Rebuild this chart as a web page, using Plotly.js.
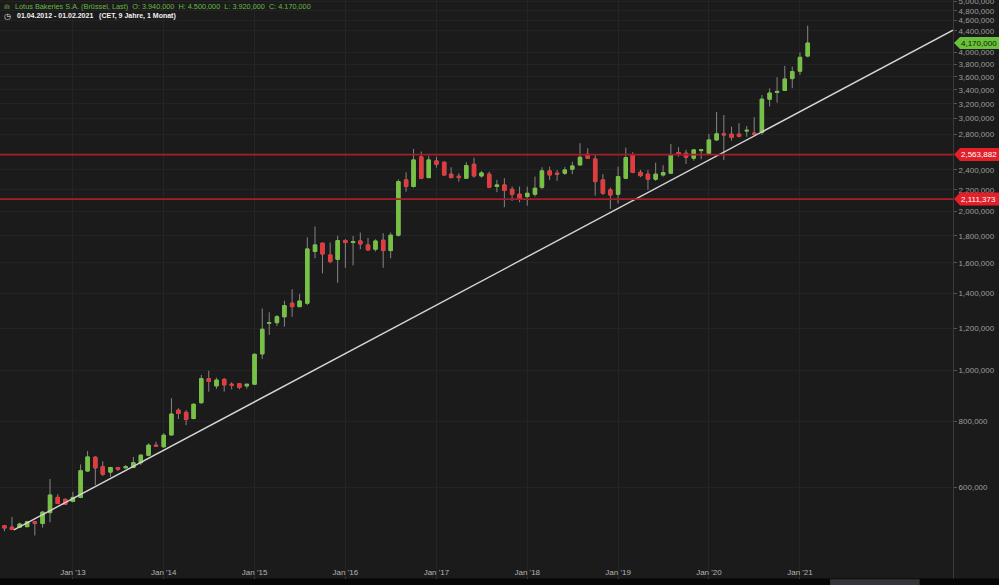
<!DOCTYPE html>
<html><head><meta charset="utf-8">
<script src="https://cdn.plot.ly/plotly-3.0.1.min.js"></script>
<style>html,body{margin:0;padding:0;background:#1b1b1b;overflow:hidden}#chart{width:999px;height:585px}</style>
</head><body><div id="chart"></div>
<script>
const months = [
'2012-04-01','2012-05-01','2012-06-01','2012-07-01','2012-08-01','2012-09-01','2012-10-01','2012-11-01','2012-12-01',
'2013-01-01','2013-02-01','2013-03-01','2013-04-01','2013-05-01','2013-06-01','2013-07-01','2013-08-01','2013-09-01','2013-10-01','2013-11-01','2013-12-01',
'2014-01-01','2014-02-01','2014-03-01','2014-04-01','2014-05-01','2014-06-01','2014-07-01','2014-08-01','2014-09-01','2014-10-01','2014-11-01','2014-12-01',
'2015-01-01','2015-02-01','2015-03-01','2015-04-01','2015-05-01','2015-06-01','2015-07-01','2015-08-01','2015-09-01','2015-10-01','2015-11-01','2015-12-01',
'2016-01-01','2016-02-01','2016-03-01','2016-04-01','2016-05-01','2016-06-01','2016-07-01','2016-08-01','2016-09-01','2016-10-01','2016-11-01','2016-12-01',
'2017-01-01','2017-02-01','2017-03-01','2017-04-01','2017-05-01','2017-06-01','2017-07-01','2017-08-01','2017-09-01','2017-10-01','2017-11-01','2017-12-01',
'2018-01-01','2018-02-01','2018-03-01','2018-04-01','2018-05-01','2018-06-01','2018-07-01','2018-08-01','2018-09-01','2018-10-01','2018-11-01','2018-12-01',
'2019-01-01','2019-02-01','2019-03-01','2019-04-01','2019-05-01','2019-06-01','2019-07-01','2019-08-01','2019-09-01','2019-10-01','2019-11-01','2019-12-01',
'2020-01-01','2020-02-01','2020-03-01','2020-04-01','2020-05-01','2020-06-01','2020-07-01','2020-08-01','2020-09-01','2020-10-01','2020-11-01','2020-12-01',
'2021-01-01','2021-02-01'];

const openVals = [
508000,505000,505000,506000,517000,513000,538000,575000,570000,
565000,575000,645000,685000,657000,642000,655000,654000,655000,669000,691000,722000,
717000,755000,841000,833000,811000,869000,965000,935000,962000,942000,944000,935000,
942000,1075000,1229000,1232000,1264000,1341000,1321000,1341000,1680000,1742000,1655000,1624000,
1762000,1747000,1759000,1729000,1697000,1765000,1687000,1804000,2296000,2231000,2538000,2319000,
2494000,2480000,2354000,2333000,2313000,2458000,2336000,2354000,2231000,2246000,2204000,2157000,
2135000,2157000,2223000,2388000,2364000,2364000,2405000,2451000,2568000,2516000,2296000,2198000,
2157000,2313000,2560000,2373000,2354000,2303000,2346000,2364000,2587000,2579000,2524000,2609000,
2579000,2733000,2807000,2803000,2803000,2841000,2816000,2824000,3265000,3362000,3392000,3571000,
3689000,3940000];

const highVals = [
510000,528000,515000,519000,519000,542000,623000,583000,573000,
589000,664000,704000,688000,673000,657000,657000,662000,686000,695000,728000,733000,
761000,886000,848000,841000,866000,981000,999000,969000,967000,950000,947000,943000,
1078000,1310000,1289000,1274000,1356000,1425000,1396000,1787000,1874000,1747000,1747000,1800000,
1774000,1798000,1825000,1783000,1772000,1820000,1825000,2301000,2373000,2628000,2598000,2552000,
2541000,2486000,2426000,2364000,2480000,2530000,2388000,2380000,2296000,2313000,2230000,2230000,
2230000,2329000,2426000,2432000,2398000,2429000,2486000,2694000,2636000,2568000,2354000,2220000,
2432000,2643000,2591000,2398000,2398000,2475000,2448000,2686000,2648000,2617000,2628000,2625000,
2807000,3088000,3048000,2896000,2940000,2905000,3018000,3326000,3422000,3593000,3775000,3763000,
4002000,4500000];

const lowVals = [
496000,499000,504000,505000,487000,504000,516000,558000,556000,
563000,573000,643000,607000,631000,629000,645000,653000,653000,662000,688000,717000,
714000,753000,809000,788000,808000,865000,912000,923000,912000,921000,921000,924000,
939000,1051000,1168000,1214000,1211000,1264000,1318000,1331000,1631000,1527000,1596000,1466000,
1565000,1581000,1697000,1687000,1680000,1565000,1631000,1793000,2181000,2219000,2303000,2313000,
2422000,2339000,2313000,2279000,2306000,2319000,2319000,2214000,2176000,2038000,2095000,2082000,
2052000,2135000,2204000,2296000,2286000,2346000,2354000,2444000,2516000,2144000,2150000,2023000,
2073000,2303000,2364000,2323000,2198000,2286000,2329000,2357000,2541000,2462000,2497000,2513000,
2568000,2725000,2505000,2725000,2764000,2772000,2781000,2794000,3163000,3217000,3383000,3425000,
3629000,3920000];

const closeVals = [
503000,500000,512000,517000,513000,539000,581000,560000,558000,
575000,646000,686000,654000,636000,655000,650000,657000,669000,691000,722000,719000,
754000,827000,829000,808000,863000,965000,953000,959000,939000,938000,929000,942000,
1073000,1197000,1231000,1264000,1327000,1321000,1354000,1699000,1729000,1662000,1608000,1762000,
1747000,1754000,1737000,1692000,1759000,1687000,1804000,2279000,2231000,2505000,2313000,2505000,
2458000,2346000,2319000,2319000,2444000,2336000,2367000,2224000,2246000,2193000,2157000,2113000,
2166000,2214000,2388000,2346000,2354000,2398000,2440000,2534000,2524000,2279000,2166000,2150000,
2329000,2530000,2372000,2339000,2303000,2354000,2370000,2560000,2572000,2534000,2617000,2617000,
2733000,2807000,2794000,2764000,2777000,2850000,2803000,3265000,3353000,3377000,3565000,3682000,
3919000,4170000];

const trendDates = ['2012-05-09', '2022-09-08'];
const trendValues = [499000, 4410000];

const levelValues = [2563882, 2111373];
const lastClose = 4170000;

const xTickVals = ['2013-01-01','2014-01-01','2015-01-01','2016-01-01','2017-01-01','2018-01-01','2019-01-01','2020-01-01','2021-01-01'];
const yTickVals = [400000,600000,800000,1000000,1200000,1400000,1600000,1800000,2000000,2200000,2400000,2800000,3000000,3200000,3400000,3600000,3800000,4000000,4400000,4600000,4800000,5000000];

const headerLine1 = 'Lotus Bakeries S.A. (Brüssel, Last)\u00a0 O: 3.940,000\u00a0 H: 4.500,000\u00a0 L: 3.920,000\u00a0 C: 4.170,000';
const headerLine2 = '01.04.2012 - 01.02.2021\u00a0\u00a0 (CET, 9 Jahre, 1 Monat)';

const GREEN = '#76c244', RED = '#e53a3e', WICK = '#858585';
const FONT = 'Liberation Sans, Arial, sans-serif';
const fmt = v => Math.round(v).toLocaleString('en-US');

const bodyHigh = openVals.map((o,i)=>Math.max(o, closeVals[i]));
const bodyLow = openVals.map((o,i)=>Math.min(o, closeVals[i]));

const traces = [
  {type:'candlestick', x:months, open:openVals, high:highVals, low:lowVals, close:closeVals,
   increasing:{line:{color:WICK,width:1}, fillcolor:GREEN},
   decreasing:{line:{color:WICK,width:1}, fillcolor:RED},
   hoverinfo:'skip', showlegend:false},
  {type:'candlestick', x:months, open:openVals, high:bodyHigh, low:bodyLow, close:closeVals,
   increasing:{line:{color:GREEN,width:1}, fillcolor:GREEN},
   decreasing:{line:{color:RED,width:1}, fillcolor:RED},
   hoverinfo:'skip', showlegend:false},
  {type:'scatter', mode:'lines', x:trendDates, y:trendValues,
   line:{color:'#d6d6d6', width:1.4}, hoverinfo:'skip', showlegend:false}
];

const shapes = [];
const annotations = [];
levelValues.forEach(v=>{
  shapes.push({type:'line', xref:'paper', x0:0, x1:1, yref:'y', y0:v, y1:v,
    line:{color:'#a61f28', width:1.6}, layer:'above'});
  shapes.push({type:'path', xref:'paper', xsizemode:'pixel', xanchor:1, yref:'y', ysizemode:'pixel', yanchor:v,
    path:'M 1 0 L 7 6.5 L 47 6.5 L 47 -6.5 L 7 -6.5 Z', fillcolor:'#e3202a', line:{width:0}, layer:'above'});
  annotations.push({xref:'paper', x:1, xanchor:'left', xshift:6, yref:'y', y:Math.log10(v), yanchor:'middle',
    text:fmt(v), showarrow:false, font:{family:FONT, size:8, color:'#ffffff'}});
});
shapes.push({type:'path', xref:'paper', xsizemode:'pixel', xanchor:1, yref:'y', ysizemode:'pixel', yanchor:lastClose,
  path:'M 1 0 L 7 6 L 47 6 L 47 -6 L 7 -6 Z', fillcolor:'#6cc13c', line:{width:0}, layer:'above'});
annotations.push({xref:'paper', x:1, xanchor:'left', xshift:6, yref:'y', y:Math.log10(lastClose), yanchor:'middle',
  text:fmt(lastClose), showarrow:false, font:{family:FONT, size:8, color:'#0b1a05'}});

// bottom toolbar strip
shapes.push({type:'rect', xref:'paper', yref:'paper', x0:-0.01, x1:1.06, y0:-0.02, y1:0.0043, fillcolor:'#060606', line:{width:0}, layer:'above'});
shapes.push({type:'rect', xref:'paper', yref:'paper', x0:0.871, x1:0.965, y0:-0.02, y1:0.0030, fillcolor:'#34343a', line:{width:0}, layer:'above'});

annotations.push({xref:'paper', yref:'paper', x:0, y:1, xanchor:'left', yanchor:'top', xshift:13, yshift:0,
  text:headerLine1, showarrow:false, font:{family:FONT, size:7.3, color:'#68b844'}});
annotations.push({xref:'paper', yref:'paper', x:0, y:1, xanchor:'left', yanchor:'top', xshift:2, yshift:0,
  text:'ılı', showarrow:false, font:{family:FONT, size:7.5, color:'#68b844'}});
annotations.push({xref:'paper', yref:'paper', x:0, y:1, xanchor:'left', yanchor:'top', xshift:2, yshift:-10,
  text:'◷', showarrow:false, font:{family:'DejaVu Sans', size:8, color:'#e8e8e8'}});
annotations.push({xref:'paper', yref:'paper', x:0, y:1, xanchor:'left', yanchor:'top', xshift:15, yshift:-10,
  text:'<b>'+headerLine2+'</b>', showarrow:false, font:{family:FONT, size:7, color:'#f0f0f0'}});

const layout = {
  width:999, height:585,
  margin:{l:0, r:46, t:0, b:4, pad:0},
  paper_bgcolor:'#1b1b1b', plot_bgcolor:'#1b1b1b',
  showlegend:false, hovermode:false,
  font:{family:FONT, color:'#a8a8a8', size:8},
  xaxis:{type:'date', range:['2012-03-14','2022-09-08'], rangeslider:{visible:false},
    tickmode:'array', tickvals:xTickVals, tickformat:"%b '%y",
    ticks:'inside', ticklen:3, tickcolor:'#777', ticklabelposition:'inside',
    tickfont:{family:FONT, size:8, color:'#b4b4b4'},
    showgrid:true, gridcolor:'#252525', gridwidth:1, zeroline:false, showline:false, fixedrange:true},
  yaxis:{type:'log', range:[5.6013, 6.7017], side:'right',
    tickmode:'array', tickvals:yTickVals, ticktext:yTickVals.map(fmt),
    ticks:'outside', ticklen:3, tickcolor:'#555', ticklabeloverflow:'allow',
    tickfont:{family:FONT, size:8, color:'#9c9c9c'},
    showgrid:true, gridcolor:'#232323', gridwidth:1, zeroline:false,
    showline:true, linecolor:'#3a3a3a', linewidth:1, fixedrange:true},
  shapes:shapes, annotations:annotations
};

Plotly.newPlot('chart', traces, layout, {displayModeBar:false, staticPlot:true});
</script></body></html>
